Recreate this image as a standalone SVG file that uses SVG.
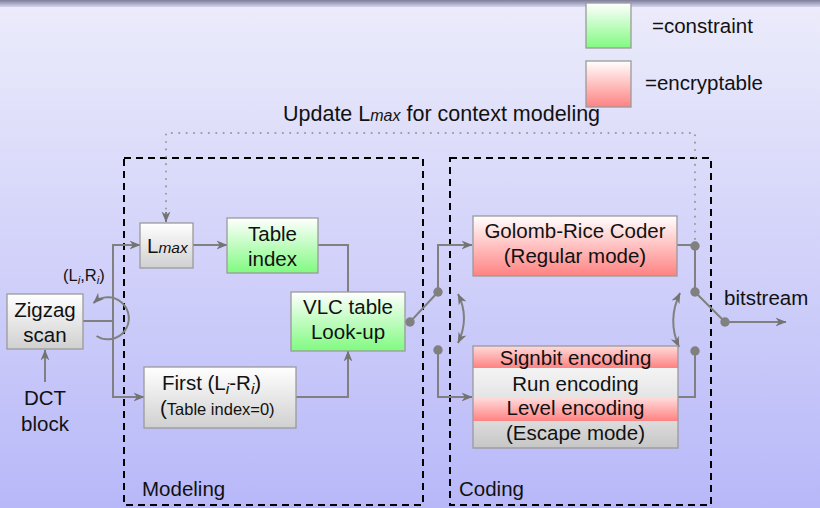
<svg xmlns="http://www.w3.org/2000/svg" width="820" height="508" viewBox="0 0 820 508">
  <defs>
    <linearGradient id="bg" x1="0" y1="0" x2="0" y2="1">
      <stop offset="0" stop-color="#ececfb"/>
      <stop offset="1" stop-color="#b8b8f9"/>
    </linearGradient>
    <linearGradient id="band" x1="0" y1="0" x2="0" y2="1">
      <stop offset="0" stop-color="#7e7e9c"/>
      <stop offset="1" stop-color="#d4d4ee"/>
    </linearGradient>
    <linearGradient id="gGreen" x1="0" y1="0" x2="0" y2="1">
      <stop offset="0" stop-color="#ffffff"/>
      <stop offset="1" stop-color="#80fa80"/>
    </linearGradient>
    <linearGradient id="gRed" x1="0" y1="0" x2="0" y2="1">
      <stop offset="0" stop-color="#ffffff"/>
      <stop offset="1" stop-color="#ff8282"/>
    </linearGradient>
    <linearGradient id="gRedBar" x1="0" y1="0" x2="0" y2="1">
      <stop offset="0" stop-color="#ffdada"/>
      <stop offset="1" stop-color="#ff8282"/>
    </linearGradient>
    <linearGradient id="gGray" x1="0" y1="0" x2="0" y2="1">
      <stop offset="0" stop-color="#ffffff"/>
      <stop offset="1" stop-color="#d0d0d0"/>
    </linearGradient>
    <linearGradient id="gRun" x1="0" y1="0" x2="0" y2="1">
      <stop offset="0" stop-color="#f4f4f4"/>
      <stop offset="1" stop-color="#e4e4e4"/>
    </linearGradient>
    <linearGradient id="gEsc" x1="0" y1="0" x2="0" y2="1">
      <stop offset="0" stop-color="#dcdcdc"/>
      <stop offset="1" stop-color="#c6c6c6"/>
    </linearGradient>
    <marker id="arr" viewBox="0 0 10 10" refX="9.5" refY="5" markerWidth="11" markerHeight="11" markerUnits="userSpaceOnUse" orient="auto-start-reverse">
      <path d="M0,1 L10,5 L0,9 L3,5 Z" fill="#737373"/>
    </marker>
    <style>
      text { font-family: "Liberation Sans", Arial, sans-serif; fill: #111; }
      .t { font-size: 20.5px; }
      .s { font-size: 16.5px; }
      .c { text-anchor: middle; }
      .box { stroke: #9a9a9a; stroke-width: 1.3; }
      .ln { fill: none; stroke: #808080; stroke-width: 2; }
      .ar { marker-end: url(#arr); }
      .dot { fill: #808080; }
      .frame { fill: none; stroke: #000; stroke-width: 2; stroke-dasharray: 7 5; }
      .dotted { fill: none; stroke: #9a9a9a; stroke-width: 2; stroke-dasharray: 0.1 7.3; stroke-linecap: round; }
    </style>
  </defs>

  <!-- background -->
  <rect x="0" y="0" width="820" height="508" fill="url(#bg)"/>
  <rect x="0" y="0" width="820" height="7" fill="url(#band)"/>

  <!-- legend -->
  <g id="legend">
    <rect class="box" x="586" y="3" width="45" height="45" fill="url(#gGreen)"/>
    <text class="t" x="652" y="33">=constraint</text>
    <rect class="box" x="586" y="61" width="45" height="46" fill="url(#gRed)"/>
    <text class="t" x="645" y="90">=encryptable</text>
  </g>

  <!-- stage frames -->
  <g id="modeling-frame">
    <rect class="frame" x="124" y="158" width="299" height="347"/>
    <text class="t" x="142" y="496">Modeling</text>
  </g>
  <g id="coding-frame">
    <rect class="frame" x="450" y="158" width="261" height="347"/>
    <text class="t" x="459" y="496">Coding</text>
  </g>

  <text id="update-label" x="283" y="121" font-size="21.5px">Update L<tspan font-style="italic" font-size="16px">max</tspan> for context modeling</text>

  <!-- connectors -->
  <g id="connectors">
    <path class="dotted" d="M166,216 V133 H695 V242"/>
    <path class="ln ar" d="M166,212 V222"/>
    <path class="ln ar" d="M45,382 V350"/>
    <path class="ln" d="M83,321 H113"/>
    <path class="ln ar" d="M113,321 V245 H140"/>
    <path class="ln ar" d="M113,321 V397 H144"/>
    <path class="ln ar" d="M96.5,336 A21,21 0 1 0 93.5,303"/>
    <path class="ln ar" d="M193,245 H227"/>
    <path class="ln" d="M318,245 H348 V292"/>
    <path class="ln ar" d="M296,397 H348 V351"/>
    <path class="ln" d="M405,322 H410 L438,292"/>
    <path class="ln ar" d="M438,292 V245 H472"/>
    <path class="ln ar" d="M438,350 V397 H472"/>
    <path class="ln" d="M677,245 H695 V292 L725,322"/>
    <path class="ln ar" d="M725,322 H786"/>
    <path class="ln" d="M678,397 H695 V351"/>
    <path class="ln ar" d="M458,294 Q470,318 458,343" marker-start="url(#arr)"/>
    <path class="ln ar" d="M680,293 Q667,320 679,347" marker-start="url(#arr)"/>
    <circle class="dot" cx="410" cy="322" r="4.7"/>
    <circle class="dot" cx="438" cy="292" r="4.7"/>
    <circle class="dot" cx="438" cy="350" r="4.7"/>
    <circle class="dot" cx="695" cy="246" r="4.7"/>
    <circle class="dot" cx="695" cy="292" r="4.7"/>
    <circle class="dot" cx="695" cy="351" r="4.7"/>
    <circle class="dot" cx="725" cy="322" r="4.7"/>
  </g>

  <!-- nodes -->
  <g id="zigzag">
    <rect class="box" x="7" y="294" width="76" height="55" fill="url(#gGray)"/>
    <text class="t c" x="45" y="317">Zigzag</text>
    <text class="t c" x="45" y="342">scan</text>
  </g>
  <g id="dct">
    <text class="t c" x="45" y="405">DCT</text>
    <text class="t c" x="45" y="431">block</text>
  </g>
  <g id="li-ri">
    <text class="s" x="63" y="281" font-size="15.5px">(L<tspan font-style="italic" font-size="11.5px" dy="3">i</tspan><tspan dy="-3">,R</tspan><tspan font-style="italic" font-size="11.5px" dy="3">i</tspan><tspan dy="-3">)</tspan></text>
  </g>
  <g id="lmax">
    <rect class="box" x="140" y="223" width="53" height="45" fill="url(#gGray)"/>
    <text class="t" x="147" y="253">L<tspan font-style="italic" font-size="15.5px">max</tspan></text>
  </g>
  <g id="table-index">
    <rect class="box" x="227" y="218" width="91" height="55" fill="url(#gGreen)"/>
    <text class="t c" x="272.5" y="241">Table</text>
    <text class="t c" x="272.5" y="266">index</text>
  </g>
  <g id="vlc">
    <rect class="box" x="291" y="292" width="114" height="59" fill="url(#gGreen)"/>
    <text class="t c" x="348" y="314">VLC table</text>
    <text class="t c" x="348" y="339">Look-up</text>
  </g>
  <g id="first">
    <rect class="box" x="144" y="367" width="152" height="61" fill="url(#gGray)"/>
    <text class="t" x="162" y="390">First (L<tspan font-style="italic" font-size="15.5px" dy="4">i</tspan><tspan dy="-4">-R</tspan><tspan font-style="italic" font-size="15.5px" dy="4">i</tspan><tspan dy="-4">)</tspan></text>
    <text x="160" y="415"><tspan class="t">(</tspan><tspan class="s">Table index=0)</tspan></text>
  </g>
  <g id="golomb">
    <rect class="box" x="473" y="216" width="204" height="60" fill="url(#gRed)"/>
    <text class="t c" x="575" y="238">Golomb-Rice Coder</text>
    <text class="t c" x="575" y="263">(Regular mode)</text>
  </g>
  <g id="escape-coder">
    <rect x="473" y="346" width="205" height="22" fill="url(#gRedBar)"/>
    <rect x="473" y="368" width="205" height="30" fill="url(#gRun)"/>
    <rect x="473" y="398" width="205" height="23" fill="url(#gRedBar)"/>
    <rect x="473" y="421" width="205" height="27" fill="url(#gEsc)"/>
    <rect class="box" x="473" y="346" width="205" height="102" fill="none"/>
    <text class="t c" x="575.5" y="365">Signbit encoding</text>
    <text class="t c" x="575.5" y="391">Run encoding</text>
    <text class="t c" x="575.5" y="415">Level encoding</text>
    <text class="t c" x="575.5" y="440">(Escape mode)</text>
  </g>
  <g id="bitstream">
    <text class="t" x="724" y="305">bitstream</text>
  </g>
</svg>
